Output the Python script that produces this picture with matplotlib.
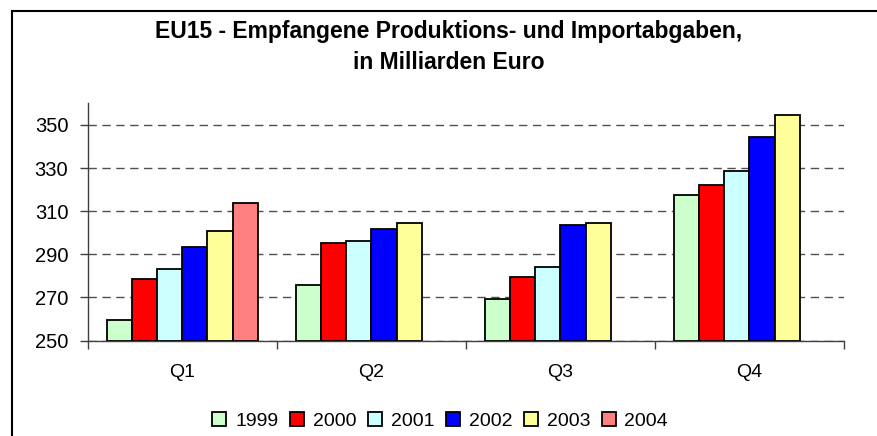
import numpy as np
import matplotlib
matplotlib.use("Agg")
import matplotlib.pyplot as plt
from matplotlib.ticker import FixedLocator

plt.rcParams['font.family'] = ['Liberation Sans', 'DejaVu Sans']

quarters = ["Q1", "Q2", "Q3", "Q4"]
years = ["1999", "2000", "2001", "2002", "2003", "2004"]
colors = ["#CCFFCC", "#FF0000", "#CCFFFF", "#0000FF", "#FFFF99", "#FF8080"]

# values per year, one per quarter (None = no data)
v1999 = [259.3, 275.8, 269.2, 317.4]
v2000 = [278.5, 295.1, 279.4, 322.1]
v2001 = [283.0, 296.1, 284.0, 328.6]
v2002 = [293.4, 301.5, 303.4, 344.3]
v2003 = [300.8, 304.3, 304.4, 354.7]
v2004 = [313.7, None, None, None]
series = [v1999, v2000, v2001, v2002, v2003, v2004]

yticks = [250, 270, 290, 310, 330, 350]

fig = plt.figure(figsize=(8.77, 4.36), dpi=100)
ax = fig.add_axes([0.1, 0.219, 0.8624, 0.544])

x = np.arange(len(quarters))
w = 0.8 / len(years)
for i, (yr, vals, c) in enumerate(zip(years, series, colors)):
    xs = [xx - 0.4 + w * (i + 0.5) for xx, v in zip(x, vals) if v is not None]
    hs = [v - 250 for v in vals if v is not None]
    ax.bar(xs, hs, width=w, bottom=250, color=c, edgecolor="black",
           linewidth=1.3, label=yr, zorder=3)

ax.set_xlim(-0.5, 3.5)
ax.set_ylim(250, 360)
ax.set_yticks(yticks)
ax.set_xticks(x)
ax.set_xticklabels(quarters)
ax.xaxis.set_minor_locator(FixedLocator(np.arange(-0.5, 4, 1)))
ax.tick_params(axis="x", which="major", length=0, pad=17, labelsize=14)
ax.tick_params(axis="x", which="minor", length=6, color="#404040", width=1)
ax.tick_params(axis="y", length=6, color="#404040", width=1, labelsize=14.5, pad=8)

ax.yaxis.grid(True, linestyle=(0, (6, 4)), color="#505050", linewidth=1, zorder=0)
for s in ["top", "right"]:
    ax.spines[s].set_visible(False)
for s in ["left", "bottom"]:
    ax.spines[s].set_color("#404040")
    ax.spines[s].set_linewidth(1)

fig.text(0.512, 0.928, "EU15 - Empfangene Produktions- und Importabgaben,",
         ha="center", va="center", fontsize=16.5, fontweight="bold")
fig.text(0.512, 0.857, "in Milliarden Euro",
         ha="center", va="center", fontsize=16.5, fontweight="bold")

fig.legend(loc="center", bbox_to_anchor=(0.502, 0.034), ncol=6, frameon=False,
           fontsize=14, handlelength=0.72, handleheight=0.72, handletextpad=0.45,
           columnspacing=0.6)

# outer frame (only top and left visible in the crop)
fig.add_artist(plt.Line2D([12 / 877, 1], [1 - 11 / 436, 1 - 11 / 436],
                          color="black", linewidth=1.5, transform=fig.transFigure))
fig.add_artist(plt.Line2D([12 / 877, 12 / 877], [0, 1 - 11 / 436],
                          color="black", linewidth=1.5, transform=fig.transFigure))

fig.savefig("out.png", dpi=100)
